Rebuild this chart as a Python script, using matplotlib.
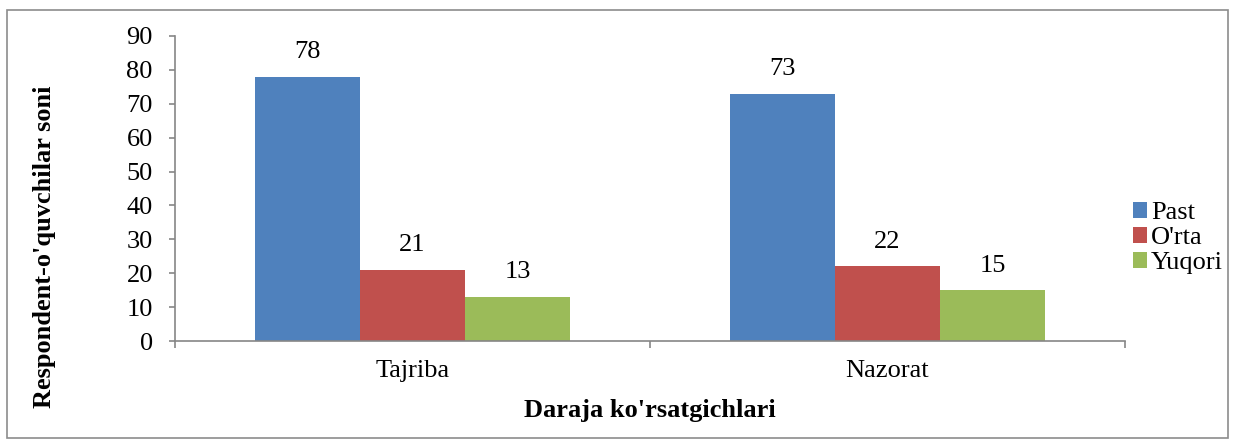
import matplotlib
matplotlib.use("Agg")
from matplotlib import pyplot as plt
from matplotlib.patches import Rectangle
import numpy as np

# data
groups = ["Tajriba", "Nazorat"]
series = ["Past", "O'rta", "Yuqori"]
past = [78, 73]
orta = [21, 22]
yuqori = [13, 15]
colors = ["#4F81BD", "#C0504D", "#9BBB59"]

plt.rcParams['font.family'] = ['Liberation Serif', 'DejaVu Serif']
fs = 19

fig = plt.figure(figsize=(12.34, 4.43), dpi=100)
ax = fig.add_axes([175/1234, 1-341/443, 950/1234, 305/443])

x = np.arange(len(groups))
w = 105/475
for k, (vals, name, col) in enumerate(zip([past, orta, yuqori], series, colors)):
    pos = x + (k-1)*w
    bars = ax.bar(pos, vals, width=w, color=col, label=name, edgecolor='none')
    for b, v in zip(bars, vals):
        ax.text(b.get_x()+b.get_width()/2, v+4, str(v), ha='center', va='bottom', fontsize=fs)

ax.set_xlim(-0.5, len(groups)-0.5)
ax.set_ylim(0, 90)
ax.set_yticks(range(0, 91, 10))
ax.set_xticks(x)
ax.set_xticklabels(groups)
ax.set_xticks(np.arange(len(groups)+1)-0.5, minor=True)
ax.tick_params(axis='x', which='major', length=0, pad=14, labelsize=fs)
ax.tick_params(axis='x', which='minor', length=5, color='#868686', width=1.2)
ax.tick_params(axis='y', length=4, color='#868686', width=1.2, labelsize=fs, pad=12)
for s in ['top', 'right']:
    ax.spines[s].set_visible(False)
for s in ['left', 'bottom']:
    ax.spines[s].set_color('#868686')
    ax.spines[s].set_linewidth(1.2)

fig.text(45/1234, 1-247/443, "Respondent-o'quvchilar soni", rotation=90,
         ha='center', va='center', fontsize=fs, fontweight='bold')
fig.text(650/1234, 1-410/443, "Daraja ko'rsatgichlari",
         ha='center', va='center', fontsize=fs, fontweight='bold')

ax.legend(loc='center left', bbox_to_anchor=(1122/1234, 1-238/443), bbox_transform=fig.transFigure,
          frameon=False, fontsize=fs, handlelength=0.55, handleheight=0.55,
          handletextpad=0.15, labelspacing=0.1, borderaxespad=0)

fig.patches.append(Rectangle((7/1234, 5/443), 1221/1234, 428/443, transform=fig.transFigure,
                             fill=False, edgecolor='#8c8c8c', linewidth=1.2))

fig.savefig("out.png", dpi=100)
